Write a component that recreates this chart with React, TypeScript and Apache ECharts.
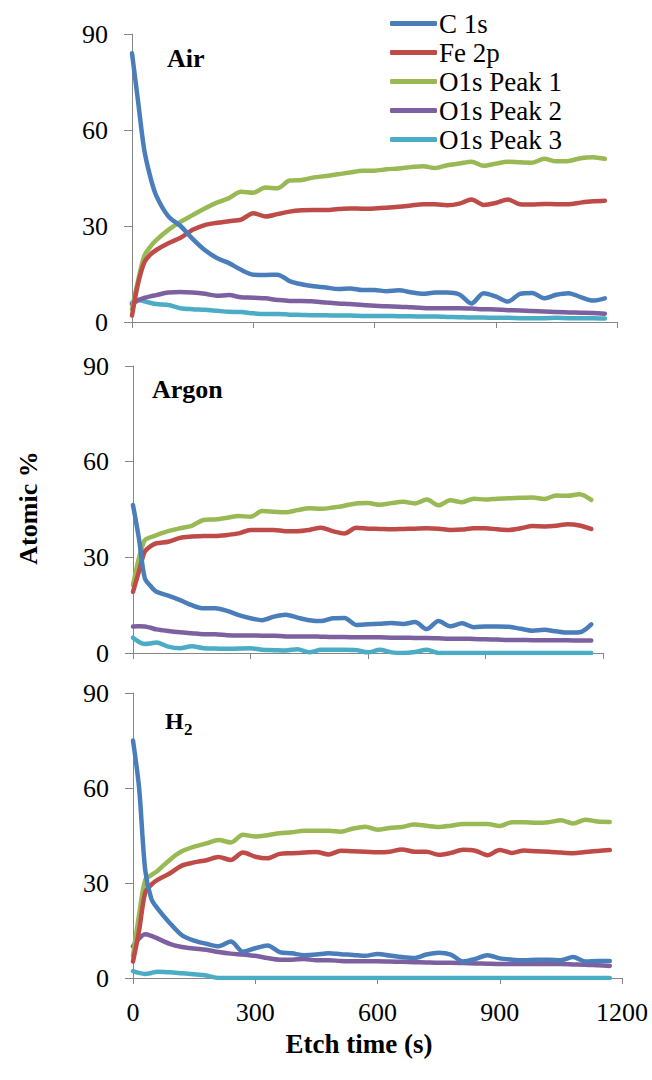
import React, { useEffect, useRef } from "react";
import * as echarts from "echarts";

const TIME = [0, 15, 30, 45, 60, 90, 120, 150, 180, 210, 240, 270, 300, 330, 360, 390, 420, 450, 480, 510, 540, 570, 600,
  630, 660, 690, 720, 750, 780, 810, 840, 870, 900, 930, 960, 990, 1020, 1050, 1080, 1110, 1140, 1170];

const SERIES_NAMES = ["C 1s", "Fe 2p", "O1s Peak 1", "O1s Peak 2", "O1s Peak 3"];
const COLORS = ["#4A7EBB", "#BE4B48", "#98B954", "#7D60A0", "#4BACC6"];
const PANELS = ["Air", "Argon", "H2"];
const X_TICKS = [0, 300, 600, 900, 1200];
const Y_TICKS = [0, 30, 60, 90];

// Air
const AIR_C1S = [84, 69, 54, 45.5, 39.5, 33, 30, 26, 22.5, 20, 18.4, 16.3, 14.8, 14.7, 14.8, 12.8, 11.8, 11.2, 10.8, 10.3, 10.5, 10.0, 10.0,
  9.6, 9.9, 9.3, 8.8, 9.2, 9.2, 8.6, 5.8, 9.0, 8.0, 6.4, 8.8, 9.1, 7.4, 8.5, 9.0, 7.8, 6.7, 7.4];
const AIR_FE2P = [2, 12, 18.5, 21, 22.5, 24.6, 26.3, 28.8, 30.3, 31, 31.5, 32, 34, 33, 33.7, 34.5, 34.9, 35, 35, 35.3, 35.5, 35.4, 35.5,
  35.7, 36.0, 36.4, 36.8, 36.8, 36.5, 37.0, 38.3, 36.6, 37.2, 38.3, 36.8, 36.7, 36.9, 36.8, 36.8, 37.3, 37.7, 37.9];
const AIR_O1 = [4, 13, 20.5, 23.5, 25.6, 28.8, 31.3, 33.4, 35.5, 37.3, 38.7, 40.7, 40.4, 42, 41.8, 44.2, 44.4, 45.2, 45.6, 46.2, 46.7, 47.3, 47.3,
  47.7, 48.0, 48.4, 48.7, 48.1, 49.0, 49.5, 50.1, 48.8, 49.5, 50.1, 49.9, 49.8, 51.0, 50.2, 50.3, 51.2, 51.5, 51.0];
const AIR_O2 = [5.5, 6.8, 7.5, 8.0, 8.4, 9.2, 9.4, 9.2, 8.8, 8.2, 8.4, 7.7, 7.6, 7.4, 6.9, 6.6, 6.6, 6.4, 6.1, 5.8, 5.6, 5.3, 5.1,
  4.9, 4.8, 4.6, 4.4, 4.3, 4.3, 4.3, 4.2, 4.0, 3.9, 3.7, 3.6, 3.4, 3.3, 3.1, 3.0, 2.9, 2.8, 2.6];
const AIR_O3 = [6, 6.9, 6.5, 6.0, 5.6, 5.3, 4.3, 4.0, 3.8, 3.5, 3.2, 3.1, 2.7, 2.5, 2.5, 2.3, 2.2, 2.1, 2.1, 2.0, 2.0, 1.9, 1.9,
  1.9, 1.8, 1.8, 1.7, 1.7, 1.6, 1.5, 1.4, 1.4, 1.3, 1.3, 1.2, 1.2, 1.2, 1.3, 1.2, 1.2, 1.2, 1.1];

// Argon
const AR_C1S = [46.4, 36, 23.5, 21, 19.2, 18, 16.6, 15, 14, 14, 13.2, 11.9, 10.9, 10.3, 11.4, 12, 11.1, 10.3, 10, 10.9, 11, 8.8, 9.0,
  9.2, 9.4, 9.1, 9.7, 7.5, 10.0, 8.4, 9.3, 8.1, 8.3, 8.3, 8.2, 7.6, 7.0, 7.3, 6.8, 6.4, 6.5, 9.0];
const AR_FE2P = [19.2, 25.5, 31.8, 33.5, 34.4, 34.9, 36.1, 36.5, 36.7, 36.7, 37, 37.5, 38.6, 38.6, 38.6, 38.2, 38.2, 38.6, 39.3, 38.2, 37.5, 39.3, 39.0,
  38.9, 38.8, 38.9, 39.0, 39.1, 39.0, 38.6, 38.7, 39.1, 39.1, 38.8, 38.6, 39.1, 39.8, 39.7, 39.9, 40.4, 40.0, 38.9];
const AR_O1 = [21.3, 29.7, 35.4, 36.3, 37, 38.2, 39.1, 39.9, 41.7, 41.9, 42.4, 43, 42.7, 44.5, 44.3, 44.1, 44.8, 45.4, 45.2, 45.6, 46.2, 46.9, 47.0,
  46.5, 47.0, 47.4, 46.9, 48.1, 46.3, 47.9, 47.3, 48.4, 48.1, 48.4, 48.5, 48.7, 48.8, 48.3, 49.4, 49.3, 49.8, 48.0];
const AR_O2 = [8.3, 8.4, 8.3, 7.9, 7.4, 6.9, 6.5, 6.2, 5.9, 5.9, 5.6, 5.5, 5.5, 5.4, 5.4, 5.2, 5.2, 5.2, 5.1, 5.0, 5.0, 4.9, 4.9,
  4.9, 4.8, 4.8, 4.7, 4.7, 4.6, 4.5, 4.5, 4.4, 4.3, 4.2, 4.1, 4.1, 4.0, 4.0, 4.0, 4.0, 3.9, 3.9];
const AR_O3 = [4.8, 3.5, 2.8, 3.0, 3.3, 2.0, 1.5, 2.1, 1.5, 1.4, 1.3, 1.4, 1.5, 1.0, 0.9, 0.8, 1.2, 0.2, 1.0, 1.0, 1.0, 0.9, 0.2,
  1.0, 0.2, 0, 0.3, 1.0, 0, 0, 0, 0, 0, 0, 0, 0, 0, 0, 0, 0, 0, 0];

// H2
const H2_C1S = [75, 60, 34, 25, 22, 17.4, 13.5, 11.8, 10.8, 10, 11.5, 8.3, 9.4, 10.3, 8.2, 7.8, 7.2, 7.4, 7.8, 7.5, 7.3, 7.0, 7.6,
  7.1, 6.6, 6.3, 7.4, 8.0, 7.4, 5.2, 6.0, 7.2, 6.2, 5.8, 5.6, 5.8, 5.8, 5.6, 6.6, 5.2, 5.4, 5.4];
const H2_FE2P = [5.2, 15, 27, 29.5, 31, 33, 35.5, 36.5, 37.2, 38.2, 37.3, 39.6, 38.3, 37.8, 39.2, 39.4, 39.6, 39.8, 39.0, 40.2, 40.0, 39.9, 39.7,
  39.9, 40.6, 39.9, 39.9, 38.9, 39.5, 40.5, 40.2, 38.8, 40.4, 39.5, 40.3, 40.0, 39.9, 39.6, 39.4, 39.8, 40.1, 40.4];
const H2_O1 = [7, 20, 31, 32.5, 33.8, 37.3, 40, 41.5, 42.5, 43.6, 42.8, 45.2, 44.7, 45.1, 45.7, 46, 46.5, 46.5, 46.5, 46.2, 47.2, 47.8, 46.8,
  47.4, 47.7, 48.5, 48.1, 47.7, 48.1, 48.6, 48.6, 48.6, 48.0, 49.2, 49.2, 49.0, 49.2, 49.8, 48.8, 50.0, 49.4, 49.3];
const H2_O2 = [10, 12.5, 13.8, 13.3, 12.5, 10.8, 9.8, 9.3, 8.9, 8.2, 7.7, 7.4, 7.0, 6.3, 5.8, 5.8, 6.0, 5.6, 5.6, 5.4, 5.3, 5.3, 5.3,
  5.2, 5.1, 5.0, 4.9, 4.8, 4.8, 4.7, 4.6, 4.5, 4.4, 4.4, 4.4, 4.4, 4.4, 4.4, 4.3, 4.2, 4.0, 3.8];
const H2_O3 = [2.2, 1.6, 1.3, 1.6, 2.0, 1.8, 1.5, 1.2, 0.8, 0, 0, 0, 0, 0, 0, 0, 0, 0, 0, 0, 0, 0, 0,
  0, 0, 0, 0, 0, 0, 0, 0, 0, 0, 0, 0, 0, 0, 0, 0, 0, 0, 0];

const PANEL_DATA = [
  [AIR_C1S, AIR_FE2P, AIR_O1, AIR_O2, AIR_O3],
  [AR_C1S, AR_FE2P, AR_O1, AR_O2, AR_O3],
  [H2_C1S, H2_FE2P, H2_O1, H2_O2, H2_O3],
];

const FONT = "Liberation Serif";
const AXIS_GRAY = "#868686";

export default function App() {
  const ref = useRef<HTMLDivElement>(null);

  useEffect(() => {
    if (!ref.current) return;
    const chart = echarts.init(ref.current, null, { renderer: "svg" });

    const grids = [
      { left: 132, top: 34, width: 485, height: 288 },
      { left: 133, top: 366, width: 470, height: 287 },
      { left: 133, top: 693, width: 489, height: 285 },
    ];

    const xAxes = grids.map((_, i) => ({
      type: "value",
      gridIndex: i,
      min: X_TICKS[0],
      max: X_TICKS[X_TICKS.length - 1],
      interval: X_TICKS[1] - X_TICKS[0],
      axisLine: { show: true, lineStyle: { color: AXIS_GRAY, width: 1 } },
      axisTick: { show: true, inside: false, length: 6, lineStyle: { color: AXIS_GRAY } },
      splitLine: { show: false },
      axisLabel: {
        show: i === 2,
        color: "#000",
        fontFamily: FONT,
        fontSize: 26,
        margin: 21,
        formatter: (v: number) => String(v),
      },
    }));

    const yAxes = grids.map((_, i) => ({
      type: "value",
      gridIndex: i,
      min: Y_TICKS[0],
      max: Y_TICKS[Y_TICKS.length - 1],
      interval: Y_TICKS[1] - Y_TICKS[0],
      axisLine: { show: true, lineStyle: { color: AXIS_GRAY, width: 1 } },
      axisTick: { show: true, inside: false, length: 8, lineStyle: { color: AXIS_GRAY } },
      splitLine: { show: false },
      axisLabel: {
        color: "#000",
        fontFamily: FONT,
        fontSize: 26,
        margin: 24,
        formatter: (v: number) => String(v),
      },
    }));

    const series: any[] = [];
    PANEL_DATA.forEach((panel, pi) => {
      panel.forEach((vals, si) => {
        series.push({
          type: "line",
          name: SERIES_NAMES[si],
          xAxisIndex: pi,
          yAxisIndex: pi,
          data: TIME.map((t, k) => [t, vals[k]]),
          showSymbol: false,
          symbol: "none",
          smooth: 0.3,
          color: COLORS[si],
          lineStyle: { width: 4.5, color: COLORS[si], cap: "round", join: "round" },
          z: 10 - si,
        });
      });
    });

    const option: any = {
      animation: false,
      backgroundColor: "#fff",
      grid: grids,
      xAxis: xAxes,
      yAxis: yAxes,
      legend: {
        data: SERIES_NAMES.map((n) => ({ name: n, icon: "roundRect" })),
        orient: "vertical",
        left: 390,
        top: 10,
        padding: 0,
        itemGap: 2,
        itemWidth: 47,
        itemHeight: 5,
        textStyle: { fontFamily: FONT, fontSize: 27, color: "#000", lineHeight: 27, padding: [0, 0, 0, -3] },
      },
      series,
      graphic: [
        {
          type: "text",
          x: 167,
          y: 58,
          style: { text: PANELS[0], fontFamily: FONT, fontSize: 26, fontWeight: "bold", fill: "#000", verticalAlign: "middle" },
        },
        {
          type: "text",
          x: 152,
          y: 389,
          style: { text: PANELS[1], fontFamily: FONT, fontSize: 26, fontWeight: "bold", fill: "#000", verticalAlign: "middle" },
        },
        {
          type: "text",
          x: 165,
          y: 721,
          style: { text: "H", fontFamily: FONT, fontSize: 24, fontWeight: "bold", fill: "#000", verticalAlign: "middle" },
        },
        {
          type: "text",
          x: 184,
          y: 729,
          style: { text: "2", fontFamily: FONT, fontSize: 17, fontWeight: "bold", fill: "#000", verticalAlign: "middle" },
        },
        {
          type: "text",
          x: 28,
          y: 508,
          rotation: Math.PI / 2,
          style: { text: "Atomic %", fontFamily: FONT, fontSize: 26, fontWeight: "bold", fill: "#000", align: "center", verticalAlign: "middle" },
        },
        {
          type: "text",
          x: 359,
          y: 1044,
          style: { text: "Etch time (s)", fontFamily: FONT, fontSize: 27, fontWeight: "bold", fill: "#000", align: "center", verticalAlign: "middle" },
        },
      ],
    };

    chart.setOption(option);
    return () => chart.dispose();
  }, []);

  return (
    <div
      ref={ref}
      style={{ position: "fixed", left: 0, top: 0, width: 652, height: 1080, background: "#fff" }}
    />
  );
}
